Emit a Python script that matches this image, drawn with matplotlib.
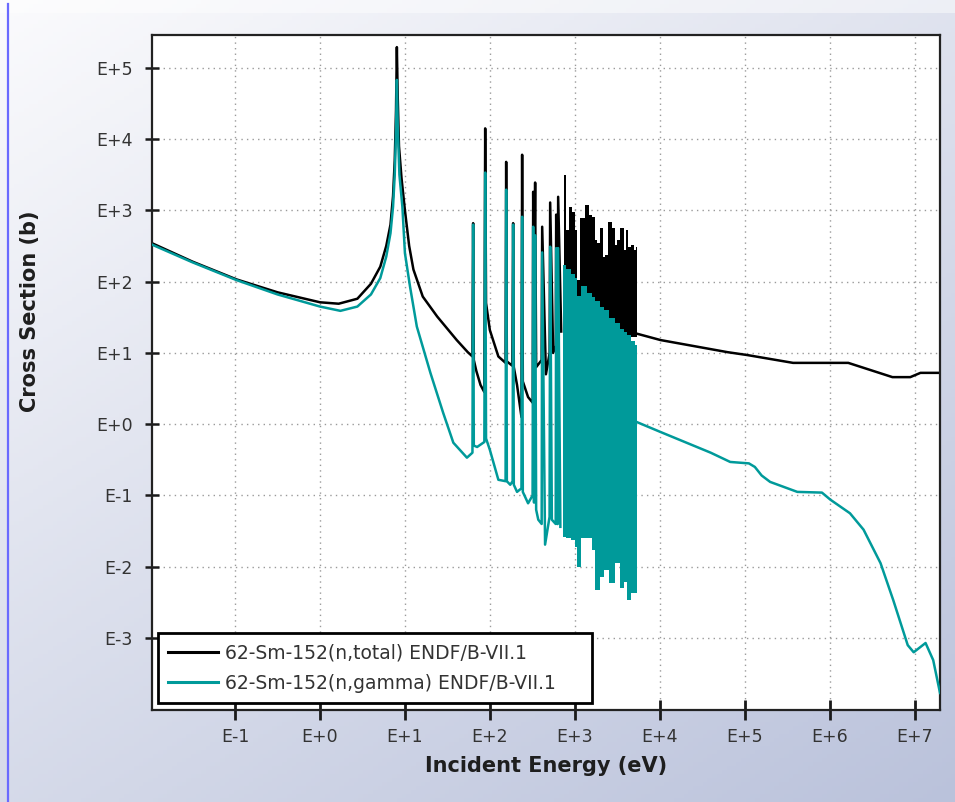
import numpy as np
import matplotlib
matplotlib.use('Agg')
import matplotlib.pyplot as plt
from matplotlib.lines import Line2D
from matplotlib.patches import Rectangle
from matplotlib.ticker import FixedLocator, FixedFormatter, NullLocator

# ---- data (log10 E [eV], log10 sigma [b]) ----
# resolved part, total
total_logE = [-1.98, -1.5, -0.98, -0.5, 0.0, 0.22, 0.44, 0.60, 0.71, 0.78, 0.83, 0.86, 0.88,
              0.895, 0.905, 0.915, 0.93, 0.96, 1.00, 1.05, 1.10, 1.21, 1.38, 1.61, 1.74,
              1.795, 1.803, 1.811, 1.84, 1.89, 1.935, 1.945, 1.955, 2.00, 2.10,
              2.185, 2.192, 2.200, 2.265, 2.274, 2.282, 2.32, 2.372, 2.380, 2.388,
              2.45, 2.505, 2.510, 2.520, 2.533, 2.545, 2.610, 2.616, 2.66, 2.704,
              2.710, 2.745, 2.776, 2.781, 2.792, 2.800, 2.804, 2.84]
total_logS = [2.54, 2.28, 2.03, 1.85, 1.71, 1.69, 1.76, 1.97, 2.21, 2.50, 2.80, 3.20, 3.70,
              4.40, 5.29, 4.60, 3.90, 3.45, 3.00, 2.50, 2.17, 1.79, 1.51, 1.18, 1.01,
              0.95, 2.82, 0.90, 0.75, 0.55, 0.45, 4.15, 1.70, 1.32, 0.95,
              0.86, 3.68, 0.88, 0.82, 2.82, 0.80, 0.55, 0.10, 3.78, 0.60,
              0.38, 0.30, 3.26, 1.60, 3.39, 0.80, 0.90, 2.77, 0.70, 1.00,
              3.11, 1.00, 1.10, 2.94, 1.20, 1.20, 3.19, 1.30]

# resolved part, capture
gamma_logE = [-1.98, -1.5, -0.98, -0.5, 0.0, 0.24, 0.44, 0.60, 0.71, 0.78, 0.83, 0.86, 0.88,
              0.895, 0.905, 0.915, 0.935, 0.97, 1.00, 1.06, 1.14, 1.30, 1.45, 1.57, 1.73,
              1.795, 1.803, 1.811, 1.85, 1.935, 1.945, 1.955, 2.00, 2.10, 2.185,
              2.192, 2.200, 2.24, 2.268, 2.274, 2.282, 2.32, 2.372, 2.380, 2.388,
              2.45, 2.503, 2.510, 2.520, 2.533, 2.545, 2.57, 2.610, 2.616, 2.65,
              2.703, 2.710, 2.73, 2.775, 2.781, 2.792, 2.800, 2.804, 2.83]
gamma_logS = [2.52, 2.27, 2.02, 1.82, 1.65, 1.59, 1.65, 1.82, 2.05, 2.35, 2.68, 3.05, 3.50,
              4.10, 4.83, 4.20, 3.50, 3.05, 2.40, 1.93, 1.37, 0.72, 0.16, -0.26, -0.47,
              -0.40, 2.80, -0.30, -0.32, -0.25, 3.53, -0.20, -0.36, -0.78, -0.80,
              3.29, -0.80, -0.85, -0.80, 2.80, -0.85, -0.95, -0.90, 2.91, -0.95,
              -1.11, -1.00, 2.77, -1.10, 2.65, -1.20, -1.34, -1.40, 2.41, -1.69,
              -1.30, 2.49, -1.34, -1.40, 2.47, -1.40, -1.40, 2.47, -1.44]

# dense resonance band (too many lines to tell apart): lower / upper edges
dense_g_logE = [2.863, 2.922, 2.981, 3.016, 3.040, 3.099, 3.181, 3.217, 3.264, 3.323,
                3.358, 3.441, 3.499, 3.558, 3.594, 3.629, 3.688, 3.735]
dense_g_low = [-1.58, -1.60, -1.62, -1.72, -2.00, -1.60, -1.60, -1.77, -2.33, -2.14,
               -2.05, -2.23, -1.95, -2.30, -2.21, -2.47, -2.37, -2.37]
dense_g_high = [2.24, 2.18, 2.10, 2.05, 1.80, 1.94, 1.84, 1.79, 1.73, 1.65,
                1.60, 1.49, 1.42, 1.34, 1.29, 1.25, 1.17, 1.11]

dense_t_logE = [2.875, 2.910, 2.946, 2.981, 3.016, 3.040, 3.087, 3.146, 3.181, 3.217,
                3.252, 3.276, 3.323, 3.346, 3.370, 3.417, 3.464, 3.488, 3.511, 3.558,
                3.594, 3.617, 3.641, 3.688, 3.711, 3.735]
dense_t_high = [3.50, 2.73, 3.04, 2.98, 2.73, 2.02, 2.89, 3.08, 2.94, 2.91,
                2.59, 2.54, 2.75, 2.35, 2.38, 2.84, 2.75, 2.52, 2.59, 2.75,
                2.45, 2.73, 2.49, 2.52, 2.45, 2.49]
dense_t_low = [1.40, 1.40, 1.38, 1.38, 1.37, 1.36, 1.35, 1.34, 1.33, 1.32,
               1.31, 1.31, 1.30, 1.29, 1.29, 1.28, 1.27, 1.26, 1.26, 1.25,
               1.24, 1.24, 1.23, 1.22, 1.22, 1.22]

# smooth part above the resonances
total_fast_logE = [3.73, 4.01, 4.80, 5.03, 5.57, 6.22, 6.74, 6.95, 7.07, 7.30]
total_fast_logS = [1.27, 1.18, 1.01, 0.97, 0.86, 0.86, 0.66, 0.66, 0.72, 0.72]
gamma_fast_logE = [3.73, 4.01, 4.60, 4.83, 5.05, 5.12, 5.20, 5.30, 5.62, 5.91, 6.01, 6.24,
                   6.40, 6.60, 6.75, 6.92, 6.99, 7.13, 7.22, 7.30]
gamma_fast_logS = [0.03, -0.11, -0.40, -0.53, -0.55, -0.60, -0.72, -0.81, -0.95, -0.96,
                   -1.06, -1.25, -1.48, -1.95, -2.47, -3.10, -3.20, -3.07, -3.31, -3.77]

xtick_exp = [-1, 0, 1, 2, 3, 4, 5, 6, 7]
ytick_exp = [-3, -2, -1, 0, 1, 2, 3, 4, 5]
label_total = "62-Sm-152(n,total) ENDF/B-VII.1"
label_gamma = "62-Sm-152(n,gamma) ENDF/B-VII.1"


def p10(v):
    return 10.0 ** np.asarray(v)


BLACK = "#000000"
TEAL = "#009a9a"
LW = 1.8

fig = plt.figure(figsize=(9.55, 8.02), dpi=100)

# background gradient
bg = fig.add_axes([0, 0, 1, 1], zorder=-10)
gx, gy = np.meshgrid(np.linspace(0, 1, 200), np.linspace(0, 1, 200))
t = (0.42 * gx + 0.58 * gy)[..., None]
c0 = np.array([251, 251, 253]) / 255.0
c1 = np.array([186, 194, 219]) / 255.0
bg.imshow(c0 * (1 - t) + c1 * t, extent=(0, 1, 0, 1), aspect='auto', origin='upper')
bg.axis('off')
fig.add_artist(Rectangle((0, 1 - 13 / 802), 1, 13 / 802, transform=fig.transFigure,
                         facecolor='white', alpha=0.45, edgecolor='none', zorder=-5))
fig.add_artist(Line2D([8 / 955, 8 / 955], [0, 1 - 4 / 802], transform=fig.transFigure,
                      color='#6a6aff', lw=1.6))

ax = fig.add_axes([152 / 955, 1 - 710 / 802, 788 / 955, 675 / 802])
ax.set_facecolor('white')
ax.set_xscale('log')
ax.set_yscale('log')

# total
h_total, = ax.plot(p10(total_logE), p10(total_logS), color=BLACK, lw=LW, zorder=2)
ax.fill_between(p10(dense_t_logE), p10(dense_t_low), p10(dense_t_high),
                step='mid', color=BLACK, lw=0, zorder=2)
ax.plot(p10(total_fast_logE), p10(total_fast_logS), color=BLACK, lw=LW, zorder=2)

# capture
h_gamma, = ax.plot(p10(gamma_logE), p10(gamma_logS), color=TEAL, lw=LW, zorder=3)
ax.fill_between(p10(dense_g_logE), p10(dense_g_low), p10(dense_g_high),
                step='mid', color=TEAL, lw=0, zorder=3)
ax.plot(p10(gamma_fast_logE), p10(gamma_fast_logS), color=TEAL, lw=LW, zorder=3)

ax.set_xlim(10 ** -1.978, 10 ** 7.30)
ax.set_ylim(10 ** -4.01, 10 ** 5.46)

ax.xaxis.set_major_locator(FixedLocator(p10(xtick_exp)))
ax.xaxis.set_major_formatter(FixedFormatter([f"E{e:+d}" for e in xtick_exp]))
ax.yaxis.set_major_locator(FixedLocator(p10(ytick_exp)))
ax.yaxis.set_major_formatter(FixedFormatter([f"E{e:+d}" for e in ytick_exp]))
ax.xaxis.set_minor_locator(NullLocator())
ax.yaxis.set_minor_locator(NullLocator())

ax.tick_params(axis='x', direction='inout', length=14, width=2.0, colors='#1a1a1a',
               labelcolor='#333333', labelsize=12.5, pad=6)
ax.tick_params(axis='y', direction='inout', length=10, width=1.8, colors='#1a1a1a',
               labelcolor='#333333', labelsize=12.5, pad=9)
ax.grid(True, which='major', linestyle=(0, (1, 3)), color='#9a9a9a', linewidth=1.0)
ax.set_axisbelow(True)
for s in ax.spines.values():
    s.set_linewidth(1.6)
    s.set_color('#222222')

ax.set_xlabel("Incident Energy (eV)", fontsize=15, fontweight='bold', color='#1e1e1e')
ax.xaxis.set_label_coords(0.5, -0.068)
ax.set_ylabel("Cross Section (b)", fontsize=15, fontweight='bold', color='#1e1e1e')
ax.yaxis.set_label_coords(-0.142, 0.591)

leg = ax.legend([h_total, h_gamma], [label_total, label_gamma],
                loc='lower left', bbox_to_anchor=(6 / 788, 7 / 675, 434 / 788, 0.1),
                mode='expand', borderaxespad=0, fontsize=13.5, fancybox=False,
                edgecolor='black', framealpha=1, handlelength=2.67, handletextpad=0.37,
                labelspacing=0.62, borderpad=0.55)
leg.get_frame().set_linewidth(2.0)
for txt in leg.get_texts():
    txt.set_color('#333333')
for ln in leg.get_lines():
    ln.set_linewidth(2.2)

fig.savefig("out.png", dpi=100)
